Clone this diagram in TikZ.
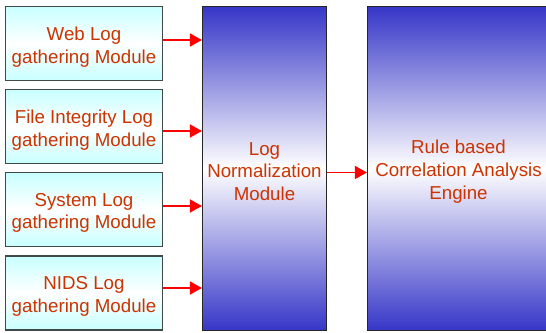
\documentclass[tikz,border=0pt]{standalone}
\usepackage{fontspec}
\setmainfont{Liberation Sans}
\usetikzlibrary{arrows.meta}
\definecolor{txtred}{HTML}{CC3300}
\definecolor{cyanlt}{HTML}{C8FFFF}
\definecolor{bluedk}{HTML}{3636C8}
\definecolor{bordgray}{HTML}{404848}
\begin{document}
\begin{tikzpicture}[x=1pt,y=-1pt,
  lbl/.style={font=\fontsize{18.7pt}{22.8pt}\selectfont, text=txtred, align=center, inner sep=0pt},
  gbox/.style={draw=bordgray, line width=1.3pt, minimum width=157pt, minimum height=74pt, inner sep=0pt,
    top color=cyanlt, bottom color=cyanlt, middle color=white},
  bbox/.style={draw=black!85, line width=1.2pt, minimum height=324pt, inner sep=0pt,
    top color=bluedk, bottom color=bluedk, middle color=white},
  arr/.style={draw=red, line width=1.9pt, -{Triangle[length=12pt,width=13pt]}}]
\useasboundingbox (0,0) rectangle (546,332);
\node[gbox] (b1) at (84,43.5) {};
\node[gbox] (b2) at (84,126.5) {};
\node[gbox] (b3) at (84,209.5) {};
\node[gbox] (b4) at (84,293) {};
\node[bbox, minimum width=124pt] (norm) at (264.5,168.5) {};
\node[bbox, minimum width=182pt] (eng) at (458.5,168.5) {};
\node[lbl, yshift=-3.5pt] (t1) at (b1) {Web Log\\gathering Module};
\node[lbl, yshift=-3.5pt] (t2) at (b2) {File Integrity Log\\gathering Module};
\node[lbl, yshift=-3.5pt] (t3) at (b3) {System Log\\gathering Module};
\node[lbl, yshift=-3.5pt] (t4) at (b4) {NIDS Log\\gathering Module};
\node[lbl, yshift=-3pt] (tn) at (norm) {Log\\Normalization\\Module};
\node[lbl, yshift=-3pt] (te) at (eng) {Rule based\\Correlation Analysis\\Engine};
\draw[arr] ([yshift=3.5pt]b1.east) -- ([yshift=3.5pt]b1.east -| norm.west);
\draw[arr] ([yshift=-4.5pt]b2.east) -- ([yshift=-4.5pt]b2.east -| norm.west);
\draw[arr] ([yshift=3.5pt]b3.east) -- ([yshift=3.5pt]b3.east -| norm.west);
\draw[arr] ([yshift=5pt]b4.east) -- ([yshift=5pt]b4.east -| norm.west);
\draw[arr] ([yshift=-4pt]norm.east) -- ([yshift=-4pt]norm.east -| eng.west);
\end{tikzpicture}
\end{document}
